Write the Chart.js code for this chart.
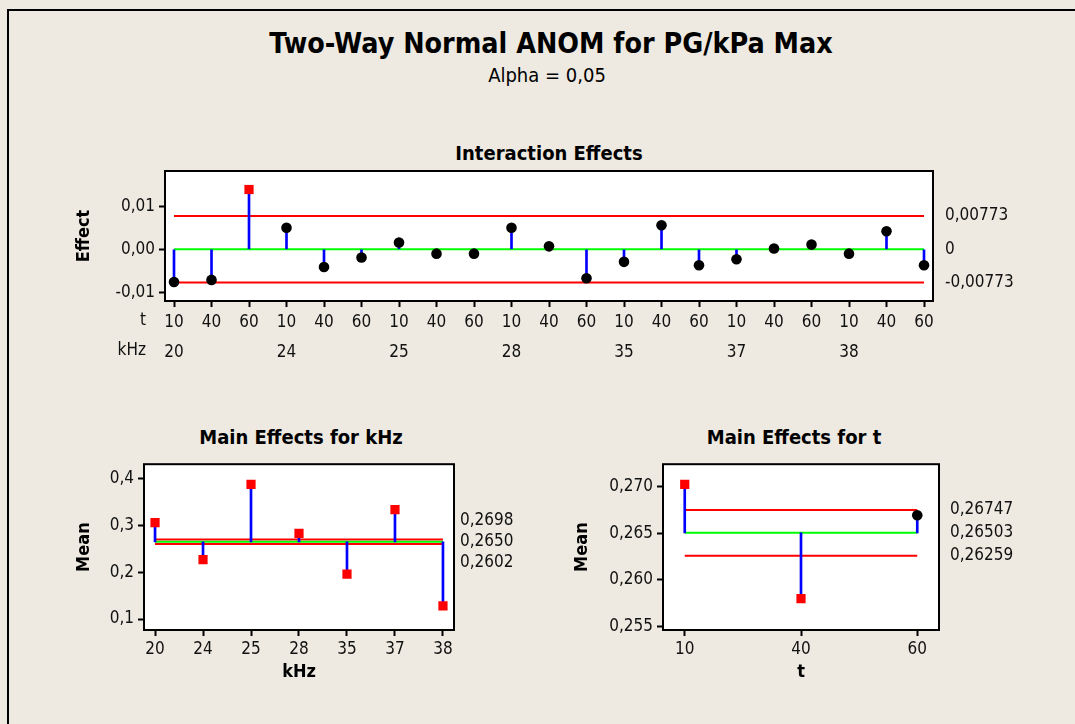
<!DOCTYPE html>
<html>
<head>
<meta charset="utf-8">
<title>Two-Way Normal ANOM for PG/kPa Max</title>
<script src="https://cdn.jsdelivr.net/npm/chart.js@4.4.0/dist/chart.umd.min.js"></script>
<style>
    body { margin: 0; background: #EEEAE1; overflow: hidden; }
    #page { position: relative; width: 1075px; height: 724px; overflow: hidden; background: #EEEAE1;
            font-family: "DejaVu Sans Condensed", "DejaVu Sans", sans-serif; color: #000; }
    .frame { position: absolute; left: 7px; top: 9px; right: -20px; bottom: -20px;
             border-left: 2px solid #000; border-top: 2px solid #000; }
    .txt { position: absolute; transform: translate(-50%, -50%); white-space: nowrap; line-height: 1; }
    .box { position: absolute; }
</style>
</head>
<body>
<div id="page">
    <div class="frame"></div>
    <div class="txt" style="left:551px; top:44px; font-size:28.4px; font-weight:bold;">Two-Way Normal ANOM for PG/kPa Max</div>
    <div class="txt" style="left:547px; top:75px; font-size:20px;">Alpha = 0,05</div>
    <div class="txt" style="left:549px; top:153px; font-size:20px; font-weight:bold;">Interaction Effects</div>
    <div class="txt" style="left:301px; top:437px; font-size:20px; font-weight:bold;">Main Effects for kHz</div>
    <div class="txt" style="left:794px; top:437px; font-size:20px; font-weight:bold;">Main Effects for t</div>

    <div class="box" style="left:60px; top:140px;"><canvas id="interaction" width="1015" height="235"></canvas></div>
    <div class="box" style="left:60px; top:450px;"><canvas id="khz" width="480" height="240"></canvas></div>
    <div class="box" style="left:560px; top:450px;"><canvas id="time" width="500" height="240"></canvas></div>
</div>

<script>
// factor levels
const tLevels = ['10', '40', '60'];
const khzLevels = ['20', '24', '25', '28', '35', '37', '38'];

// interaction effects, t varies fastest within each kHz level
const interactionEffects = [
    -0.0076, -0.0071, 0.0139,
    0.0050, -0.0041, -0.0019,
    0.0016, -0.0010, -0.0010,
    0.0050, 0.0007, -0.0067,
    -0.0029, 0.0056, -0.0037,
    -0.0023, 0.0002, 0.0011,
    -0.0010, 0.0042, -0.0037
];
const interactionLimits = [0.00773, 0, -0.00773]; // UDL, centre, LDL
const interactionTicks = [-0.01, 0, 0.01];

const khzMeans = [0.306, 0.227, 0.388, 0.283, 0.196, 0.334, 0.128];
const khzLimits = [0.2698, 0.2650, 0.2602];
const khzTicks = [0.1, 0.2, 0.3, 0.4];

const tMeans = [0.2702, 0.2580, 0.2669];
const tLimits = [0.26747, 0.26503, 0.26259];
const tTicks = [0.255, 0.260, 0.265, 0.270];

const FONT = '"DejaVu Sans Condensed", "DejaVu Sans", sans-serif';

function comma(v, dec) {
    if (v === 0 && dec > 4) return '0';
    return v.toFixed(dec).replace('.', ',');
}

// white plot area + black frame
const framePlugin = {
    id: 'frame',
    beforeDraw(chart) {
        const { ctx, chartArea: a } = chart;
        ctx.save();
        ctx.fillStyle = '#FFFFFF';
        ctx.fillRect(a.left, a.top, a.right - a.left, a.bottom - a.top);
        ctx.restore();
    },
    afterDraw(chart) {
        const { ctx, chartArea: a } = chart;
        ctx.save();
        ctx.strokeStyle = '#000';
        ctx.lineWidth = 2;
        ctx.strokeRect(a.left, a.top, a.right - a.left, a.bottom - a.top);
        ctx.restore();
    }
};

// decision limit values printed to the right of the plot
const limitLabels = {
    id: 'limitLabels',
    afterDraw(chart, args, opts) {
        const { ctx, chartArea: a } = chart;
        const y = chart.scales.y;
        const ys = opts.limits.map((v) => y.getPixelForValue(v));
        ys[0] = Math.min(ys[0], ys[1] - opts.gap);
        ys[2] = Math.max(ys[2], ys[1] + opts.gap);
        ctx.save();
        ctx.font = '17px ' + FONT;
        ctx.fillStyle = '#111';
        ctx.textAlign = 'left';
        ctx.textBaseline = 'middle';
        opts.limits.forEach((v, i) => {
            ctx.fillText(comma(v, opts.decimals), a.right + opts.dx, ys[i]);
        });
        ctx.restore();
    }
};

// "t" / "kHz" row names in front of the two-row axis
const rowNames = {
    id: 'rowNames',
    afterDraw(chart, args, opts) {
        if (!opts.rows) return;
        const { ctx, chartArea: a } = chart;
        ctx.save();
        ctx.font = '17px ' + FONT;
        ctx.fillStyle = '#111';
        ctx.textAlign = 'right';
        ctx.textBaseline = 'middle';
        opts.rows.forEach((r, i) => {
            ctx.fillText(r, a.left - 19, a.bottom + 20 + i * 30);
        });
        ctx.restore();
    }
};

function anomChart(id, cfg) {
    const [upper, center, lower] = cfg.limits;
    const last = cfg.values.length - 1;
    const outside = cfg.values.map((v) => v > upper || v < lower);
    const hline = (v, color) => ({
        type: 'line',
        data: [{ x: 0, y: v }, { x: last, y: v }],
        borderColor: color,
        borderWidth: 2,
        pointRadius: 0,
        order: 2
    });

    return new Chart(document.getElementById(id), {
        type: 'line',
        data: {
            datasets: [
                {
                    type: 'line',
                    data: cfg.values.map((v, i) => ({ x: i, y: v })),
                    showLine: false,
                    pointStyle: outside.map((o) => o ? 'rect' : 'circle'),
                    pointRadius: outside.map((o) => o ? 6.5 : 5.3),
                    pointBackgroundColor: outside.map((o) => o ? '#FF0000' : '#000000'),
                    pointBorderWidth: 0,
                    order: 0
                },
                {
                    type: 'bar',
                    data: cfg.values.map((v, i) => ({ x: i, y: [center, v] })),
                    backgroundColor: '#0000FF',
                    borderWidth: 0,
                    barThickness: 2,
                    order: 1
                },
                hline(center, '#00FF00'),
                hline(upper, '#FF0000'),
                hline(lower, '#FF0000')
            ]
        },
        options: {
            responsive: false,
            animation: false,
            events: [],
            layout: { padding: { top: cfg.padTop, right: cfg.padRight, bottom: 0, left: 0 } },
            plugins: {
                legend: { display: false },
                tooltip: { enabled: false },
                limitLabels: { limits: cfg.limits, decimals: cfg.decimals, gap: cfg.gap, dx: cfg.labelDx },
                rowNames: { rows: cfg.rows }
            },
            scales: {
                x: {
                    type: 'linear',
                    min: cfg.xMin,
                    max: last - cfg.xMin,
                    offset: false,
                    afterFit: (s) => { s.height = cfg.xHeight; },
                    afterBuildTicks: (s) => { s.ticks = cfg.values.map((v, i) => ({ value: i })); },
                    grid: { offset: false, drawOnChartArea: false, drawTicks: true, tickLength: 6, tickColor: '#000', tickWidth: 2 },
                    border: { display: false },
                    ticks: {
                        color: '#111',
                        font: { family: FONT, size: 17, lineHeight: cfg.tickLine },
                        padding: cfg.tickPad,
                        maxRotation: 0,
                        autoSkip: false,
                        callback: (v) => cfg.tickLabel(v)
                    },
                    title: {
                        display: !!cfg.xTitle,
                        text: cfg.xTitle,
                        color: '#000',
                        font: { family: FONT, size: 18, weight: 'bold' },
                        padding: { top: 0, bottom: 7 }
                    }
                },
                y: {
                    min: cfg.yMin,
                    max: cfg.yMax,
                    afterFit: (s) => { s.width = cfg.yWidth; },
                    afterBuildTicks: (s) => { s.ticks = cfg.yTicks.map((v) => ({ value: v })); },
                    grid: { drawOnChartArea: false, drawTicks: true, tickLength: 6, tickColor: '#000', tickWidth: 2 },
                    border: { display: false },
                    ticks: {
                        color: '#111',
                        font: { family: FONT, size: 17 },
                        padding: 4,
                        callback: (v) => comma(v, cfg.yDecimals)
                    },
                    title: {
                        display: true,
                        text: cfg.yTitle,
                        color: '#000',
                        font: { family: FONT, size: 18, weight: 'bold' },
                        padding: { top: cfg.yTitlePad, bottom: 0 }
                    }
                }
            }
        },
        plugins: [framePlugin, limitLabels, rowNames]
    });
}

anomChart('interaction', {
    values: interactionEffects,
    limits: interactionLimits,
    yTicks: interactionTicks,
    yMin: -0.0120, yMax: 0.0182, yDecimals: 2,
    xMin: -0.24,
    padTop: 31, padRight: 142, yWidth: 105, xHeight: 74,
    yTitle: 'Effect', yTitlePad: 14,
    tickLine: 30 / 17, tickPad: 1,
    rows: ['t', 'kHz'],
    tickLabel: (i) => {
        const t = tLevels[i % tLevels.length];
        const k = i % tLevels.length === 0 ? khzLevels[i / tLevels.length] : '';
        return [t, k];
    },
    decimals: 5, gap: 0, labelDx: 12
});

anomChart('khz', {
    values: khzMeans,
    limits: khzLimits,
    yTicks: khzTicks,
    yMin: 0.0766, yMax: 0.431, yDecimals: 1,
    xMin: -0.23,
    padTop: 9, padRight: 86, yWidth: 84, xHeight: 60,
    yTitle: 'Mean', yTitlePad: 14,
    xTitle: 'kHz',
    tickLine: 1.2, tickPad: 3,
    tickLabel: (i) => khzLevels[i],
    decimals: 4, gap: 21, labelDx: 6
});

anomChart('time', {
    values: tMeans,
    limits: tLimits,
    yTicks: tTicks,
    yMin: 0.25466, yMax: 0.27235, yDecimals: 3,
    xMin: -0.187,
    padTop: 9, padRight: 121, yWidth: 103, xHeight: 60,
    yTitle: 'Mean', yTitlePad: 12,
    xTitle: 't',
    tickLine: 1.2, tickPad: 3,
    tickLabel: (i) => tLevels[i],
    decimals: 5, gap: 21, labelDx: 11
});
</script>
</body>
</html>
